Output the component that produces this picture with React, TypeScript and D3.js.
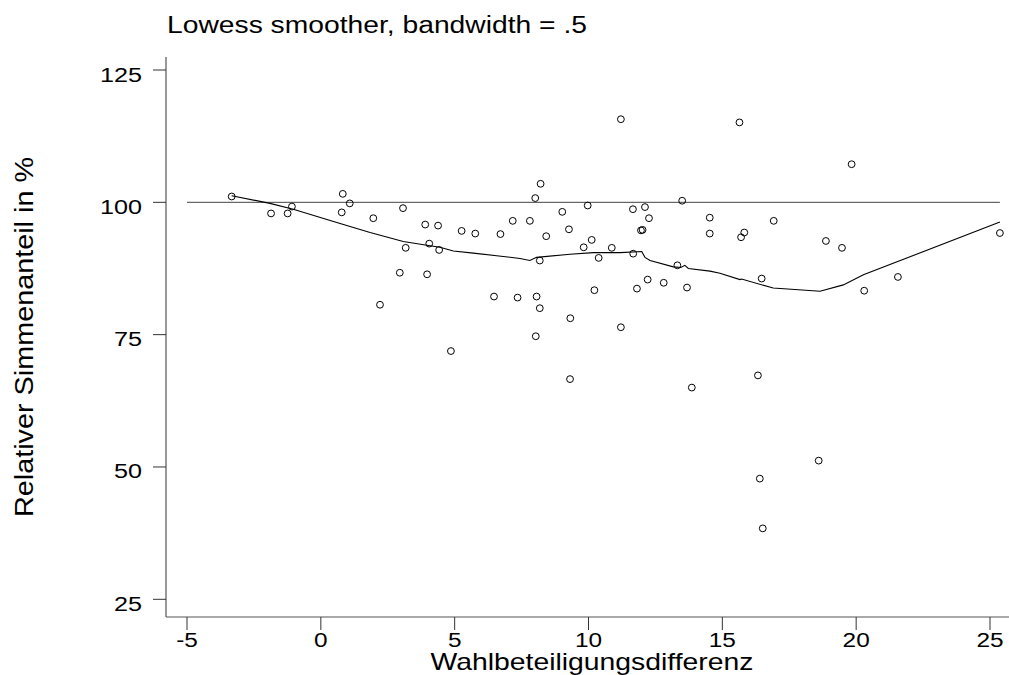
import React from "react";
import * as d3 from "d3";

// scatter points: Wahlbeteiligungsdifferenz vs relativer Stimmenanteil
const ptX = [
  -3.33, -1.86, -1.24, -1.08, 0.82, 1.08, 0.78, 1.96, 3.07, 3.9, 4.38, 4.05, 3.17, 4.42, 2.95, 3.97,
  5.26, 5.77, 6.71, 7.17, 7.81, 8.01, 8.21, 8.42, 8.18, 9.02, 9.27, 9.97, 9.82, 10.12, 10.38, 10.87,
  11.21, 11.66, 12.11, 12.26, 11.96, 12.02, 11.67, 13.32, 13.5, 14.53, 14.53, 15.64, 12.21, 12.81,
  13.68, 11.81, 10.22, 6.47, 7.35, 8.06, 19.83, 16.92, 15.82, 15.7, 18.87, 19.47, 25.37, 16.47,
  21.56, 20.3, 2.21, 8.18, 9.32, 8.03, 4.86, 9.31, 11.21, 16.33, 13.86, 18.6, 16.4, 16.51,
];
const ptY = [
  101.1, 97.9, 97.9, 99.2, 101.6, 99.8, 98.1, 97.0, 98.9, 95.8, 95.6, 92.2, 91.4, 91.0, 86.7, 86.4,
  94.6, 94.1, 94.0, 96.5, 96.5, 100.8, 103.5, 93.6, 89.0, 98.2, 94.9, 99.4, 91.5, 92.9, 89.5, 91.4,
  115.7, 98.7, 99.1, 97.0, 94.7, 94.8, 90.3, 88.1, 100.3, 97.1, 94.1, 115.1, 85.4, 84.8,
  83.9, 83.7, 83.4, 82.2, 82.0, 82.2, 107.2, 96.5, 94.3, 93.4, 92.7, 91.4, 94.2, 85.6,
  85.9, 83.3, 80.65, 80.0, 78.1, 74.7, 71.9, 66.6, 76.4, 67.3, 65.0, 51.2, 47.8, 38.4,
];

// lowess curve
const lowX = [
  -3.33, -1.9, -1.03, 0.72, 1.84, 3.08, 4.08, 4.45, 4.95, 5.7, 7.44, 7.81, 8.06, 9.31, 10.18, 11.18,
  11.99, 12.11, 12.3, 13.17, 13.45, 13.6, 13.73, 14.54, 14.91, 15.66, 15.72, 16.9, 18.65, 19.52, 20.27, 25.37,
];
const lowY = [
  101.25, 99.8, 98.7, 96.0, 94.3, 92.6, 91.8, 91.5, 90.8, 90.4, 89.4, 89.0, 89.6, 90.2, 90.5, 90.5,
  90.7, 89.6, 89.0, 87.8, 87.7, 88.1, 87.5, 87.0, 86.6, 85.4, 85.5, 83.8, 83.2, 84.4, 86.3, 96.3,
];

const xTicks = [-5, 0, 5, 10, 15, 20, 25];
const yTicks = [25, 50, 75, 100, 125];
const refValue = 100;

const font = "'Liberation Sans', Arial, sans-serif";

export default function App() {
  const x = d3.scaleLinear().domain([-5, 25]).range([187, 990]);
  const y = d3.scaleLinear().domain([25, 125]).range([599.3, 70]);

  const axisLeft = 166, axisBottom = 617, axisTop = 57, axisRight = 1009;

  const lowess = d3
    .line<number>()
    .x((d, i) => x(lowX[i]))
    .y((d, i) => y(lowY[i]));

  return (
    <svg width={1009} height={675} style={{ position: "absolute", left: 0, top: 0, background: "#fff" }} fontFamily={font}>
      <text x={167} y={32.7} fontSize={23} textLength={420} lengthAdjust="spacingAndGlyphs">
        Lowess smoother, bandwidth = .5
      </text>

      {/* axes */}
      <line x1={axisLeft} x2={axisLeft} y1={axisTop} y2={axisBottom} stroke="#555" strokeWidth={1.2} />
      <line x1={axisLeft} x2={axisRight} y1={axisBottom} y2={axisBottom} stroke="#555" strokeWidth={1.2} />

      {yTicks.map(t => (
        <g key={"y" + t}>
          <line x1={153} x2={axisLeft} y1={y(t)} y2={y(t)} stroke="#333" />
          <text transform={`translate(142,${y(t) + 11.5}) scale(1.2,1)`} textAnchor="end" fontSize={21}>
            {t}
          </text>
        </g>
      ))}
      {xTicks.map(t => (
        <g key={"x" + t}>
          <line x1={x(t)} x2={x(t)} y1={axisBottom} y2={630} stroke="#333" />
          <text transform={`translate(${x(t)},647) scale(1.25,1)`} textAnchor="middle" fontSize={19.5}>
            {t}
          </text>
        </g>
      ))}

      <text x={592} y={670} fontSize={24} textAnchor="middle" textLength={323} lengthAdjust="spacingAndGlyphs">
        Wahlbeteiligungsdifferenz
      </text>
      <text
        transform="translate(33,337) rotate(-90)"
        fontSize={26}
        textAnchor="middle"
        textLength={360}
        lengthAdjust="spacingAndGlyphs"
      >
        Relativer Simmenanteil in %
      </text>

      {/* reference line at 100 */}
      <line x1={x(-5)} x2={x(d3.max(ptX)!)} y1={y(refValue)} y2={y(refValue)} stroke="#444" strokeWidth={1} />

      <path d={lowess(lowX) || ""} fill="none" stroke="#000" strokeWidth={1.1} />

      {ptX.map((v, i) => (
        <circle key={i} cx={x(v)} cy={y(ptY[i])} r={3.4} fill="none" stroke="#000" strokeWidth={1} />
      ))}
    </svg>
  );
}
